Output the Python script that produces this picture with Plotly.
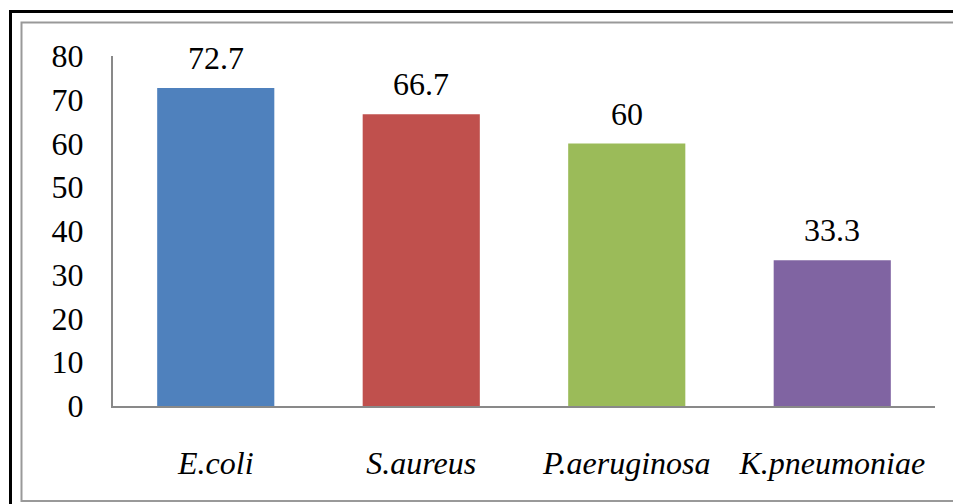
import plotly.graph_objects as go

categories = ["E.coli", "S.aureus", "P.aeruginosa", "K.pneumoniae"]
values = [72.7, 66.7, 60, 33.3]
labels = ["72.7", "66.7", "60", "33.3"]
colors = ["#4F81BD", "#C0504D", "#9BBB59", "#8064A2"]
tick_vals = [0, 10, 20, 30, 40, 50, 60, 70, 80]

FONT = "Times New Roman, Liberation Serif, serif"
OFF = 8  # page body margin
W, H = 961 - OFF, 504 - OFF
L, T = 113 - OFF, 56 - OFF
pw, ph = 822, 350
R, B = W - L - pw, H - T - ph

def px_x(p):
    return (p - OFF - L) / pw

def px_y(p):
    return (T + ph - (p - OFF)) / ph

fig = go.Figure()
fig.add_trace(go.Bar(
    x=categories, y=values, marker=dict(color=colors, line=dict(width=0)),
    width=0.57, hoverinfo="skip", showlegend=False,
))

for c, v, t in zip(categories, values, labels):
    fig.add_annotation(x=c, y=v, text=t, showarrow=False, yanchor="bottom",
                       yshift=10, font=dict(family=FONT, size=32, color="black"))

fig.update_layout(
    width=W, height=H,
    margin=dict(l=L, r=R, t=T, b=B),
    paper_bgcolor="white", plot_bgcolor="white",
    font=dict(family=FONT, size=32, color="black"),
    xaxis=dict(
        tickvals=categories,
        ticktext=["<i>%s</i>" % c for c in categories],
        showline=True, linecolor="#898989", linewidth=2,
        ticks="", ticklabelstandoff=28, showgrid=False,
        tickfont=dict(family=FONT, size=32, color="black"),
    ),
    yaxis=dict(
        range=[0, 80], tickvals=tick_vals,
        showline=True, linecolor="#898989", linewidth=2,
        ticks="", ticklabelstandoff=21, showgrid=False, zeroline=False,
        tickfont=dict(family=FONT, size=32, color="black"),
    ),
    shapes=[
        dict(type="rect", xref="paper", yref="paper",
             x0=px_x(10.5), x1=px_x(980), y0=px_y(520), y1=px_y(11.5),
             line=dict(color="black", width=3), fillcolor="rgba(0,0,0,0)", layer="above"),
        dict(type="rect", xref="paper", yref="paper",
             x0=px_x(21.5), x1=px_x(975), y0=px_y(501), y1=px_y(22.5),
             line=dict(color="#999999", width=2), fillcolor="rgba(0,0,0,0)", layer="above"),
    ],
)

fig.write_html("out.html")
